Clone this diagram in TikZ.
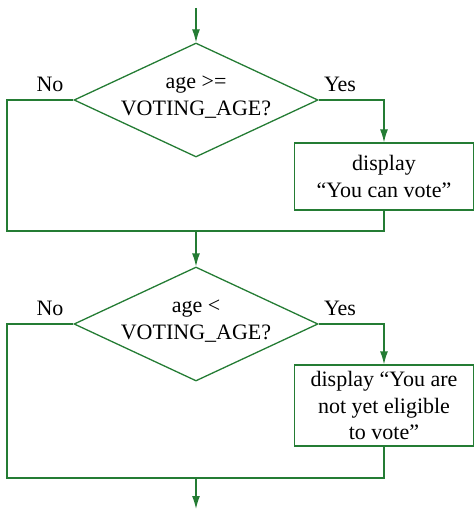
\documentclass[tikz,border=0pt]{standalone}
\usepackage{fontspec}
\setmainfont{Liberation Serif}
\usetikzlibrary{shapes.geometric,arrows.meta}
\definecolor{fg}{RGB}{36,124,52}
\begin{document}
\begin{tikzpicture}[x=1pt,y=-1pt,
  conn/.style={draw=fg,line width=1.3pt},
  arr/.style={conn,-{Latex[length=13pt,width=8pt]}},
  decision/.style={diamond,draw=fg,line width=1.3pt,minimum width=244pt,minimum height=114pt,inner sep=0pt,aspect=2.14},
  actbox/.style={rectangle,draw=fg,line width=1.3pt,minimum width=179pt,inner sep=0pt,font=\fontsize{22}{26.5}\selectfont,align=center},
  lbl/.style={font=\fontsize{22}{26.5}\selectfont,align=center,inner sep=0pt}
]
\useasboundingbox (0,0) rectangle (473,510);
% first decision
\coordinate (start) at (196,8);
\node[decision] (d1) at (196,100) {};
\node[lbl] (t1) at (196,97) {age >=\\VOTING\_AGE?};
\node[lbl,anchor=base] (no1) at (50,92) {No};
\node[lbl,anchor=base] (yes1) at (340,92) {Yes};
\node[actbox,minimum height=67pt] (b1) at (384,176.5) {display\\“You can vote”};
\coordinate (j1) at (7,231);
\coordinate (m1) at (196,231);
\draw[arr] (start) -- (d1.north);
\draw[arr] (d1.east) -| (b1.north);
\draw[conn] (d1.west) -| (j1) -- (b1.south |- j1) -- (b1.south);
% second decision
\node[decision] (d2) at (196,324) {};
\node[lbl] (t2) at (196,321) {age <\\VOTING\_AGE?};
\node[lbl,anchor=base] (no2) at (50,315) {No};
\node[lbl,anchor=base] (yes2) at (340,315) {Yes};
\node[actbox,minimum height=81pt] (b2) at (384,405.5) {display “You are\\not yet eligible\\to vote”};
\coordinate (j2) at (7,478);
\coordinate (m2) at (196,478);
\coordinate (end) at (196,509);
\draw[arr] (m1) -- (d2.north);
\draw[arr] (d2.east) -| (b2.north);
\draw[conn] (d2.west) -| (j2) -- (b2.south |- j2) -- (b2.south);
\draw[arr] (m2) -- (end);
\end{tikzpicture}
\end{document}
